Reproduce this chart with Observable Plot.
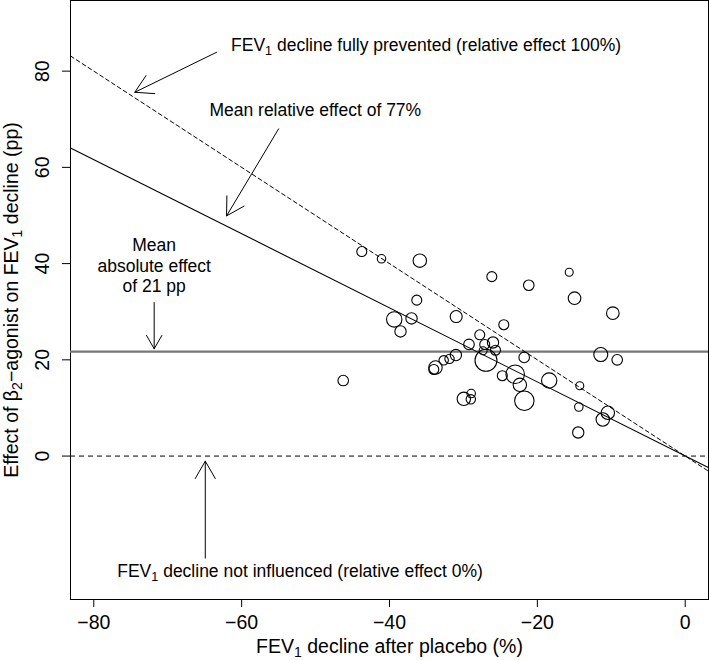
<!DOCTYPE html>
<html>
<head>
<meta charset="utf-8">
<script src="https://cdn.jsdelivr.net/npm/d3@7"></script>
<script src="https://cdn.jsdelivr.net/npm/@observablehq/plot@0.6"></script>
<style>
  html, body { margin: 0; padding: 0; background: #fff; }
  #chart svg { display: block; }
</style>
</head>
<body>
<div id="chart"></div>
<script>
// ---- Data ----
const placeboDecline = [-43.75, -41.08, -35.9, -26.16, -36.31, -39.36, -37.02, -38.51, -30.98, -24.54,
  -27.79, -29.25, -27.12, -26.0, -25.66, -27.34, -26.95, -31.02, -31.88, -32.67,
  -33.78, -34.01, -46.26, -29.95, -28.95, -29.0, -24.74, -15.69, -21.16, -14.97,
  -9.79, -11.42, -9.2, -21.78, -23.0, -22.37, -21.76, -18.4, -14.26, -14.39,
  -10.47, -11.15, -14.47];
const agonistEffect = [42.5, 41.0, 40.6, 37.3, 32.4, 28.4, 28.6, 25.9, 29.0, 27.3,
  25.2, 23.2, 23.2, 23.6, 22.0, 21.9, 19.9, 21.0, 20.2, 19.9,
  18.4, 18.0, 15.7, 11.9, 13.0, 11.8, 16.7, 38.2, 35.5, 32.8,
  29.7, 21.1, 20.0, 20.5, 17.0, 14.8, 11.5, 15.7, 14.6, 10.2,
  9.0, 7.6, 4.9];
const studyWeight = [2.5, 1.8, 4.5, 2.5, 2.5, 5.9, 3.2, 3.2, 3.6, 2.5,
  2.5, 2.8, 2.5, 3.2, 2.5, 1.6, 12.1, 3.2, 2.2, 2.2,
  4.5, 2.5, 2.8, 4.5, 1.8, 2.2, 2.5, 1.6, 2.8, 4.0,
  4.0, 4.9, 2.8, 2.8, 8.6, 4.5, 9.4, 5.9, 1.6, 1.8,
  4.5, 4.5, 3.2];

const xTicks = [-80, -60, -40, -20, 0];
const yTicks = [0, 20, 40, 60, 80];
const xDomain = [-83.15, 3.15];
const yDomain = [-29.81, 94.68];

const fullEffect = 1.00;      // relative effect 100%
const meanRelEffect = 0.77;   // mean relative effect 77%
const meanAbsEffect = 21.7;   // mean absolute effect (pp)
const noEffect = 0;

const xTitle = "FEV₁ decline after placebo (%)";
const yTitle = "Effect of β₂−agonist on FEV₁ decline (pp)";

const leftNotes = [
  {text: "FEV₁ decline fully prevented (relative effect 100%)", x: -61.43, y: 85.33},
  {text: "Mean relative effect of 77%", x: -64.36, y: 71.76},
  {text: "FEV₁ decline not influenced (relative effect 0%)", x: -76.83, y: -24.05}
];
const centerNotes = [
  {text: "Mean\nabsolute effect\nof 21 pp", x: -71.83, y: 39.7}
];
const arrowsData = [
  {x1: -63.39, y1: 83.92, x2: -74.45, y2: 75.61},
  {x1: -55.0, y1: 68.0, x2: -62.04, y2: 49.92},
  {x1: -71.83, y1: 31.9, x2: -71.83, y2: 22.3},
  {x1: -64.92, y1: -21.2, x2: -64.92, y2: -1.06}
];

// ---- Build tables ----
const studies = placeboDecline.map((x, i) => ({x, y: agonistEffect[i], w: studyWeight[i]}));
const lineEnds = xDomain.map(x => ({x}));

const FONT = "'Liberation Sans', Arial, Helvetica, sans-serif";
const NOTE_SIZE = 17.5;
const AXIS_SIZE = 19.5;

const chart = Plot.plot({
  width: 709,
  height: 660,
  marginTop: 0,
  marginBottom: 61,
  marginLeft: 70,
  marginRight: 1,
  style: {fontFamily: FONT, fontSize: "16px", color: "black", background: "white"},
  x: {domain: xDomain},
  y: {domain: yDomain},
  r: {type: "sqrt", domain: [0, 12.1], range: [0, 11]},
  marks: [
    Plot.frame({stroke: "black", strokeWidth: 1}),
    Plot.ruleY([meanAbsEffect], {stroke: "#767676", strokeWidth: 2.2}),
    Plot.ruleY([noEffect], {stroke: "black", strokeWidth: 1, strokeDasharray: "5,4"}),
    Plot.line(lineEnds, {x: "x", y: d => -fullEffect * d.x, stroke: "black", strokeWidth: 1, strokeDasharray: "4,3", clip: true}),
    Plot.line(lineEnds, {x: "x", y: d => -meanRelEffect * d.x, stroke: "black", strokeWidth: 1.1, clip: true}),
    Plot.dot(studies, {x: "x", y: "y", r: "w", fill: "none", stroke: "black", strokeWidth: 1.1}),
    Plot.arrow(arrowsData, {x1: "x1", y1: "y1", x2: "x2", y2: "y2", stroke: "black", strokeWidth: 1, headLength: 30, headAngle: 60}),
    Plot.text(leftNotes, {x: "x", y: "y", text: "text", textAnchor: "start", lineAnchor: "middle", fontSize: NOTE_SIZE, fill: "black"}),
    Plot.text(centerNotes, {x: "x", y: "y", text: "text", textAnchor: "middle", lineAnchor: "middle", lineHeight: 1.18, fontSize: NOTE_SIZE, fill: "black"}),
    // x axis
    Plot.axisX({ticks: xTicks, tickSize: 8, tickPadding: 8, fontSize: AXIS_SIZE, label: null, stroke: "black", color: "black"}),
    // y axis ticks + rotated labels
    Plot.axisY({ticks: yTicks, tickSize: 8, tickFormat: () => "", label: null, stroke: "black"}),
    Plot.text(yTicks, {y: d => d, text: d => String(d), frameAnchor: "left", dx: -28, rotate: -90, textAnchor: "middle", lineAnchor: "middle", fontSize: AXIS_SIZE, fill: "black"}),
    // axis titles
    Plot.text([xTitle], {frameAnchor: "bottom", dy: 47, text: d => d, textAnchor: "middle", lineAnchor: "middle", fontSize: AXIS_SIZE, fill: "black"}),
    Plot.text([yTitle], {frameAnchor: "left", dx: -58.5, rotate: -90, text: d => d, textAnchor: "middle", lineAnchor: "middle", fontSize: AXIS_SIZE, fill: "black"})
  ]
});

// Render subscript characters as real subscript tspans
function subscriptify(root) {
  const map = {"₁": "1", "₂": "2"};
  const walker = document.createTreeWalker(root, NodeFilter.SHOW_TEXT);
  const nodes = [];
  while (walker.nextNode()) if (/[₁₂]/.test(walker.currentNode.nodeValue)) nodes.push(walker.currentNode);
  for (const n of nodes) {
    const frag = document.createDocumentFragment();
    for (const part of n.nodeValue.split(/([₁₂])/)) {
      if (!part) continue;
      if (map[part]) {
        const t = document.createElementNS("http://www.w3.org/2000/svg", "tspan");
        t.setAttribute("baseline-shift", "-0.28em");
        t.setAttribute("font-size", "0.72em");
        t.textContent = map[part];
        frag.appendChild(t);
      } else {
        frag.appendChild(document.createTextNode(part));
      }
    }
    n.parentNode.replaceChild(frag, n);
  }
}
subscriptify(chart);
document.getElementById("chart").appendChild(chart);
</script>
</body>
</html>
